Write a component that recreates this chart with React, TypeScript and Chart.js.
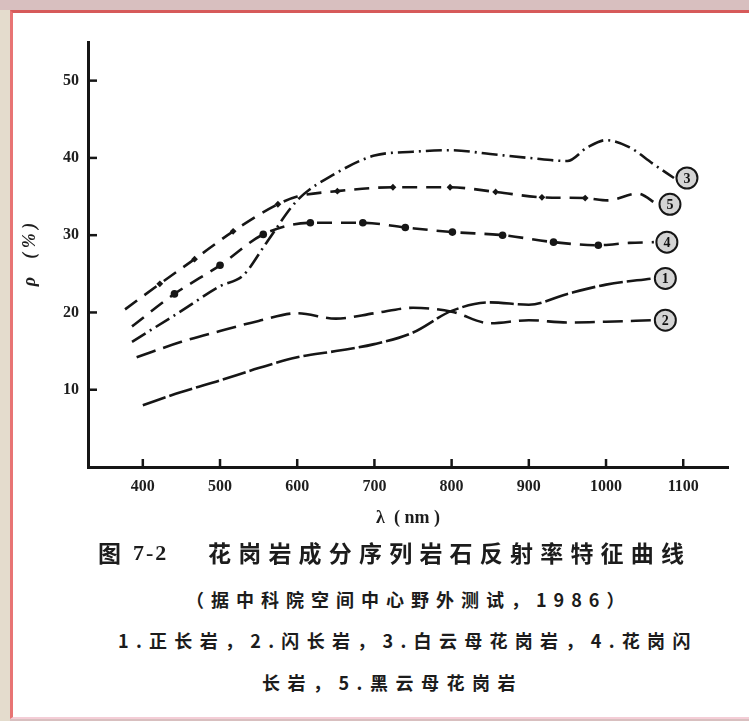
import React, { useEffect, useRef } from "react";
import { Chart, registerables } from "chart.js";

Chart.register(...registerables);

// ---- axis ticks ----
const xTicks = [400, 500, 600, 700, 800, 900, 1000, 1100];
const yTicks = [10, 20, 30, 40, 50];

// ---- series (wavelength nm, reflectance %) ----
// 1. 正长岩
const wl1 = [400, 450, 500, 550, 600, 650, 700, 750, 800, 850, 900, 950, 1000, 1060];
const rho1 = [8.0, 9.7, 11.2, 12.8, 14.2, 15.0, 15.9, 17.4, 20.2, 21.3, 21.0, 22.4, 23.6, 24.4];
// 2. 闪长岩
const wl2 = [392, 450, 500, 550, 600, 650, 700, 750, 800, 850, 900, 950, 1000, 1060];
const rho2 = [14.2, 16.2, 17.6, 18.9, 19.9, 19.2, 19.9, 20.6, 20.1, 18.6, 19.0, 18.7, 18.8, 19.0];
// 3. 白云母花岗岩
const wl3 = [386, 450, 500, 530, 560, 600, 650, 700, 750, 800, 850, 900, 950, 975, 1000, 1030, 1060, 1088];
const rho3 = [16.2, 20.2, 23.4, 24.8, 29.0, 34.5, 38.0, 40.3, 40.8, 41.0, 40.5, 40.0, 39.6, 41.3, 42.3, 41.4, 39.3, 37.4];
// 4. 花岗闪长岩
const wl4 = [386, 441, 500, 556, 617, 685, 740, 801, 866, 932, 990, 1030, 1062];
const rho4 = [18.2, 22.4, 26.1, 30.1, 31.6, 31.6, 31.0, 30.4, 30.0, 29.1, 28.7, 29.0, 29.1];
const dots4 = [441, 500, 556, 617, 685, 740, 801, 866, 932, 990];
// 5. 黑云母花岗岩
const wl5 = [377, 422, 467, 517, 575, 600, 652, 724, 798, 857, 917, 973, 1002, 1041, 1066];
const rho5 = [20.4, 23.7, 26.9, 30.5, 34.0, 35.0, 35.7, 36.2, 36.2, 35.6, 34.9, 34.8, 34.5, 35.4, 34.0];
const marks5 = [422, 467, 517, 575, 652, 724, 798, 857, 917, 973];

const seriesNames = ["正长岩", "闪长岩", "白云母花岗岩", "花岗闪长岩", "黑云母花岗岩"];
const seriesTags = ["1", "2", "3", "4", "5"];

const X_MIN = 329;
const X_MAX = 1158;
const Y_MIN = 0;
const Y_MAX = 55;

const INK = "#161616";

const toPoints = (xs: number[], ys: number[]) => xs.map((x, i) => ({ x, y: ys[i] }));

const decorPlugin = {
  id: "decor",
  afterDatasetsDraw(chart: any) {
    const { ctx, scales } = chart;
    const xs = scales.x;
    const ys = scales.y;
    const bottom = ys.getPixelForValue(Y_MIN);
    const left = xs.getPixelForValue(X_MIN);
    ctx.save();
    ctx.strokeStyle = INK;
    ctx.lineWidth = 2.5;
    xTicks.forEach((v) => {
      const px = xs.getPixelForValue(v);
      ctx.beginPath();
      ctx.moveTo(px, bottom);
      ctx.lineTo(px, bottom - 8);
      ctx.stroke();
    });
    yTicks.forEach((v) => {
      const py = ys.getPixelForValue(v);
      ctx.beginPath();
      ctx.moveTo(left, py);
      ctx.lineTo(left + 9, py);
      ctx.stroke();
    });
    chart.data.datasets.forEach((_ds: any, i: number) => {
      const meta = chart.getDatasetMeta(i);
      const pt = meta.data[meta.data.length - 1];
      const cx = pt.x + 13;
      const cy = pt.y;
      ctx.beginPath();
      ctx.arc(cx, cy, 10.5, 0, Math.PI * 2);
      ctx.fillStyle = "#d4d4d4";
      ctx.fill();
      ctx.lineWidth = 2;
      ctx.strokeStyle = INK;
      ctx.stroke();
      ctx.fillStyle = "#111";
      ctx.font = "bold 14px 'Liberation Serif'";
      ctx.textAlign = "center";
      ctx.textBaseline = "middle";
      ctx.fillText(seriesTags[i], cx, cy + 1);
    });
    ctx.restore();
  },
};

const tickFont = { family: "'Liberation Serif'", size: 16, weight: "bold" as const };

export default function App() {
  const canvasRef = useRef<HTMLCanvasElement | null>(null);

  useEffect(() => {
    if (!canvasRef.current) return;
    const base = {
      borderColor: INK,
      backgroundColor: INK,
      borderWidth: 2.6,
      fill: false,
      cubicInterpolationMode: "monotone" as const,
      pointBorderWidth: 0,
      pointHoverRadius: 0,
    };
    const chart = new Chart(canvasRef.current, {
      type: "line",
      data: {
        datasets: [
          { ...base, label: seriesNames[0], data: toPoints(wl1, rho1), borderDash: [24, 4], pointRadius: 0 },
          { ...base, label: seriesNames[1], data: toPoints(wl2, rho2), borderDash: [20, 8], pointRadius: 0 },
          { ...base, label: seriesNames[2], data: toPoints(wl3, rho3), borderDash: [16, 5, 2, 5], pointRadius: 0 },
          {
            ...base,
            label: seriesNames[3],
            data: toPoints(wl4, rho4),
            borderDash: [15, 9],
            pointStyle: "circle",
            pointRadius: (c: any) => (dots4.includes(c.raw?.x) ? 3.8 : 0),
          },
          {
            ...base,
            label: seriesNames[4],
            data: toPoints(wl5, rho5),
            borderDash: [15, 9],
            pointStyle: "rectRot",
            pointRadius: (c: any) => (marks5.includes(c.raw?.x) ? 3.4 : 0),
          },
        ],
      },
      options: {
        responsive: false,
        devicePixelRatio: 1,
        animation: false,
        events: [],
        layout: { padding: { left: 0, top: 42, right: 21, bottom: 0 } },
        plugins: {
          legend: { display: false },
          tooltip: { enabled: false },
          title: { display: false },
        },
        scales: {
          x: {
            type: "linear",
            min: X_MIN,
            max: X_MAX,
            afterBuildTicks: (axis: any) => {
              axis.ticks = xTicks.map((value) => ({ value }));
            },
            afterFit: (axis: any) => {
              axis.height = 73;
            },
            grid: { display: false, drawTicks: false },
            border: { display: true, color: INK, width: 3 },
            ticks: {
              color: "#1e1e1e",
              font: tickFont,
              padding: 10,
              maxRotation: 0,
              autoSkip: false,
              callback: (v: any) => String(v),
            },
            title: {
              display: true,
              text: "λ  ( nm )",
              color: "#1e1e1e",
              font: { family: "'Liberation Serif'", size: 18, weight: "bold" },
              padding: { top: 0, bottom: 11 },
            },
          },
          y: {
            type: "linear",
            min: Y_MIN,
            max: Y_MAX,
            afterBuildTicks: (axis: any) => {
              axis.ticks = yTicks.map((value) => ({ value }));
            },
            afterFit: (axis: any) => {
              axis.width = 88;
            },
            grid: { display: false, drawTicks: false },
            border: { display: true, color: INK, width: 3 },
            ticks: { color: "#1e1e1e", font: tickFont, padding: 9, callback: (v: any) => String(v) },
            title: {
              display: true,
              text: "ρ    ( % )",
              color: "#1e1e1e",
              font: { family: "'Liberation Serif'", size: 18, weight: "bold", style: "italic" },
              padding: { top: 20, bottom: 0 },
            },
          },
        },
      },
      plugins: [decorPlugin],
    } as any);
    return () => chart.destroy();
  }, []);

  const cap: React.CSSProperties = {
    position: "absolute",
    whiteSpace: "nowrap",
    fontFamily: "'Noto Sans CJK SC', sans-serif",
    fontWeight: 700,
    color: "#1c1c1c",
    lineHeight: 1,
    zIndex: 3,
  };

  return (
    <div
      style={{
        position: "absolute",
        left: 0,
        top: 0,
        width: 749,
        height: 721,
        overflow: "hidden",
        background: "#d8bfbf",
      }}
    >
      <div style={{ position: "absolute", left: 0, top: 10, width: 10, height: 711, background: "#e4dccd" }} />
      <div
        style={{
          position: "absolute",
          left: 10,
          top: 10,
          width: 739,
          height: 709,
          boxSizing: "border-box",
          background: "#ffffff",
          borderTop: "3px solid #d65a5a",
          borderLeft: "3px solid #e87474",
          borderBottom: "2px solid #f4cdd6",
        }}
      />
      <canvas
        ref={canvasRef}
        width={749}
        height={540}
        style={{ position: "absolute", left: 0, top: 0, width: 749, height: 540, zIndex: 2 }}
      />
      <div style={{ ...cap, left: 98, top: 541, fontSize: 23 }}>图</div>
      <div
        style={{
          ...cap,
          left: 133,
          top: 542,
          fontSize: 22,
          letterSpacing: 2,
          fontFamily: "'Liberation Serif', serif",
          fontWeight: 700,
        }}
      >
        7-2
      </div>
      <div style={{ ...cap, left: 208, top: 541, fontSize: 23, letterSpacing: 7.2 }}>
        花岗岩成分序列岩石反射率特征曲线
      </div>
      <div style={{ ...cap, left: 186, top: 590, fontSize: 18, letterSpacing: 7 }}>
        （据中科院空间中心野外测试，1986）
      </div>
      <div style={{ ...cap, left: 118, top: 631, fontSize: 18, letterSpacing: 7.3 }}>
        1.正长岩，2.闪长岩，3.白云母花岗岩，4.花岗闪
      </div>
      <div style={{ ...cap, left: 262, top: 673, fontSize: 18, letterSpacing: 7.5 }}>
        长岩，5.黑云母花岗岩
      </div>
    </div>
  );
}
